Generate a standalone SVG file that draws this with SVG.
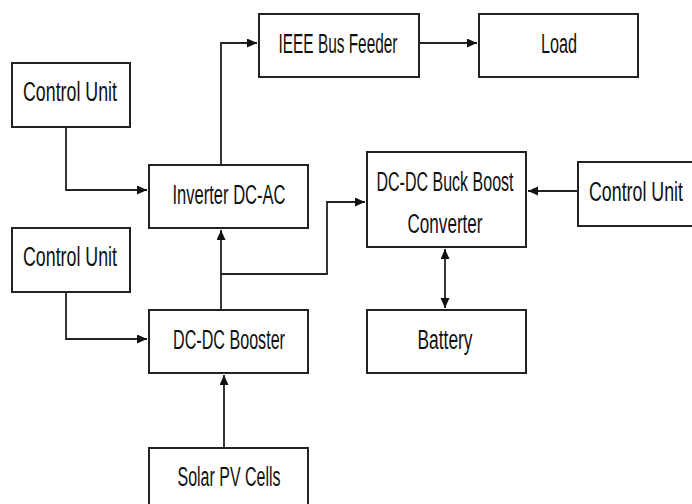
<svg xmlns="http://www.w3.org/2000/svg" width="692" height="504" viewBox="0 0 692 504">
<style>
.box{fill:#fff;stroke:#222;stroke-width:2}
.lbl{font-family:"Liberation Sans Narrow","Liberation Sans",Arial,sans-serif;font-size:27px;fill:#111;text-anchor:middle}
.con{fill:none;stroke:#222;stroke-width:1.8}
</style>
<defs>
<marker id="ah" markerUnits="userSpaceOnUse" markerWidth="11" markerHeight="10" refX="10" refY="4.5" orient="auto-start-reverse">
<path d="M0,0 L10,4.5 L0,9 z" fill="#111"/>
</marker>
</defs>
<rect width="692" height="504" fill="#fff"/>
<g id="connectors">
<path class="con" d="M66,127 V190 H147" marker-end="url(#ah)"/>
<path class="con" d="M221,165 V43 H257" marker-end="url(#ah)"/>
<path class="con" d="M419,43 H477" marker-end="url(#ah)"/>
<path class="con" d="M66,292 V339 H147" marker-end="url(#ah)"/>
<path class="con" d="M221,310 V230" marker-end="url(#ah)"/>
<path class="con" d="M221,274 H327 V202 H365" marker-end="url(#ah)"/>
<path class="con" d="M578,191 H528" marker-end="url(#ah)"/>
<path class="con" d="M445,249 V308" marker-start="url(#ah)" marker-end="url(#ah)"/>
<path class="con" d="M224,448 V375" marker-end="url(#ah)"/>
</g>
<g id="cu1"><rect class="box" x="12" y="63" width="118" height="64"/><text class="lbl" x="70" y="101" textLength="94" lengthAdjust="spacingAndGlyphs">Control Unit</text></g>
<g id="inverter"><rect class="box" x="149" y="165" width="159" height="63"/><text class="lbl" x="229" y="204" textLength="113" lengthAdjust="spacingAndGlyphs">Inverter DC-AC</text></g>
<g id="ieee"><rect class="box" x="259" y="14" width="160" height="63"/><text class="lbl" x="338" y="53" textLength="119" lengthAdjust="spacingAndGlyphs">IEEE Bus Feeder</text></g>
<g id="load"><rect class="box" x="479" y="14" width="159" height="63"/><text class="lbl" x="559" y="53" textLength="36" lengthAdjust="spacingAndGlyphs">Load</text></g>
<g id="buckboost"><rect class="box" x="367" y="152" width="159" height="95"/><text class="lbl" x="445" y="191" textLength="137" lengthAdjust="spacingAndGlyphs">DC-DC Buck Boost</text><text class="lbl" x="445" y="233" textLength="75" lengthAdjust="spacingAndGlyphs">Converter</text></g>
<g id="cu3"><rect class="box" x="578" y="162" width="120" height="64"/><text class="lbl" x="636" y="201" textLength="94" lengthAdjust="spacingAndGlyphs">Control Unit</text></g>
<g id="cu2"><rect class="box" x="12" y="228" width="118" height="64"/><text class="lbl" x="70" y="266" textLength="94" lengthAdjust="spacingAndGlyphs">Control Unit</text></g>
<g id="booster"><rect class="box" x="149" y="310" width="159" height="63"/><text class="lbl" x="229" y="349" textLength="112" lengthAdjust="spacingAndGlyphs">DC-DC Booster</text></g>
<g id="battery"><rect class="box" x="367" y="310" width="159" height="63"/><text class="lbl" x="445" y="349" textLength="55" lengthAdjust="spacingAndGlyphs">Battery</text></g>
<g id="solar"><rect class="box" x="149" y="448" width="159" height="70"/><text class="lbl" x="229" y="486" textLength="103" lengthAdjust="spacingAndGlyphs">Solar PV Cells</text></g>
</svg>
